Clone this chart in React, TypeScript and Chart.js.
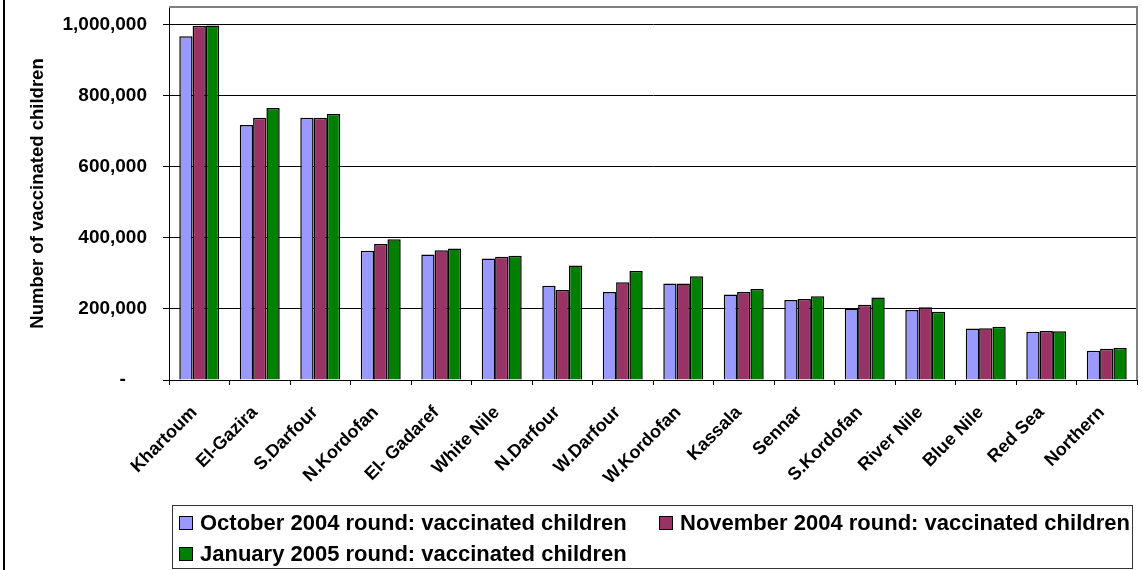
import React, { useEffect, useRef } from "react";
import { Chart, registerables } from "chart.js";

Chart.register(...registerables);

const categories = [
  "Khartoum", "El-Gazira", "S.Darfour", "N.Kordofan", "El- Gadaref", "White Nile",
  "N.Darfour", "W.Darfour", "W.Kordofan", "Kassala", "Sennar", "S.Kordofan",
  "River Nile", "Blue Nile", "Red Sea", "Northern",
];
const october2004 = [968000, 718000, 738000, 364000, 353000, 342000, 265000, 248000, 272000, 241000, 225000, 201000, 197000, 145000, 136000, 82000];
const november2004 = [997000, 738000, 738000, 383000, 365000, 347000, 253000, 275000, 272000, 248000, 228000, 212000, 205000, 146000, 138000, 88000];
const january2005 = [998000, 766000, 749000, 396000, 370000, 350000, 322000, 307000, 292000, 256000, 236000, 232000, 192000, 150000, 137000, 90000];
const seriesLabels = [
  "October 2004 round: vaccinated children",
  "November 2004 round: vaccinated children",
  "January 2005 round: vaccinated children",
];
const seriesColors = ["#9999FF", "#993366", "#008000"];
const yTickValues = [0, 200000, 400000, 600000, 800000, 1000000];
const yTitle = "Number of vaccinated children";

const FONT = "'Liberation Sans', Arial, sans-serif";

const decorPlugin = {
  id: "decor",
  afterDraw(chart: any) {
    const ctx = chart.ctx;
    const a = chart.chartArea;
    ctx.save();
    // outer frame left edge
    ctx.fillStyle = "#000";
    ctx.fillRect(3, 0, 2, chart.height);
    // plot area top/right border
    ctx.strokeStyle = "#808080";
    ctx.lineWidth = 2;
    ctx.beginPath();
    ctx.moveTo(a.left, a.top);
    ctx.lineTo(a.right, a.top);
    ctx.lineTo(a.right, a.bottom);
    ctx.stroke();
    // legend box
    ctx.strokeStyle = "#333";
    ctx.lineWidth = 1;
    ctx.strokeRect(172.5, 505.5, 960, 63);
    const pos = [
      { x: 179, y: 523 },
      { x: 659, y: 523 },
      { x: 179, y: 554 },
    ];
    ctx.font = `bold 22px ${FONT}`;
    ctx.textBaseline = "middle";
    ctx.textAlign = "left";
    chart.data.datasets.forEach((ds: any, i: number) => {
      const p = pos[i];
      ctx.fillStyle = ds.backgroundColor;
      ctx.fillRect(p.x, p.y - 7, 14, 14);
      ctx.strokeStyle = "#000";
      ctx.lineWidth = 1;
      ctx.strokeRect(p.x + 0.5, p.y - 6.5, 13, 13);
      ctx.fillStyle = "#000";
      ctx.fillText(ds.label, p.x + 21, p.y + 1);
    });
    ctx.restore();
  },
};

export default function App() {
  const ref = useRef<HTMLCanvasElement>(null);
  useEffect(() => {
    if (!ref.current) return;
    const data = [october2004, november2004, january2005];
    const chart = new Chart(ref.current, {
      type: "bar",
      data: {
        labels: categories,
        datasets: data.map((d, i) => ({
          label: seriesLabels[i],
          data: d,
          backgroundColor: seriesColors[i],
          borderColor: "#000",
          borderWidth: 1.5,
          categoryPercentage: 0.66,
          barPercentage: 1.0,
        })),
      },
      options: {
        responsive: false,
        animation: false,
        devicePixelRatio: 1,
        layout: { padding: { top: 7, right: 6, bottom: 0, left: 0 } },
        plugins: {
          legend: { display: false },
          tooltip: { enabled: false },
        },
        scales: {
          x: {
            offset: true,
            grid: { drawOnChartArea: false, drawTicks: true, tickLength: 5, color: "#000" },
            border: { color: "#000", width: 1 },
            ticks: {
              autoSkip: false,
              maxRotation: 45,
              minRotation: 45,
              color: "#000",
              padding: 17,
              labelOffset: -5,
              font: { family: FONT, size: 18, weight: "bold" },
            },
            afterFit: (s: any) => {
              s.height = 190;
              s.paddingLeft = 0;
              s.paddingRight = 0;
            },
          },
          y: {
            min: 0,
            max: 1050000,
            afterBuildTicks: (s: any) => {
              s.ticks = yTickValues.map((v) => ({ value: v }));
            },
            afterFit: (s: any) => {
              s.width = 169;
              s.paddingTop = 0;
              s.paddingBottom = 0;
            },
            grid: { color: "#000", lineWidth: 1, tickLength: 6, drawTicks: true },
            border: { color: "#000", width: 1 },
            ticks: {
              color: "#000",
              padding: 16,
              font: { family: FONT, size: 19, weight: "bold" },
              callback: (v: any) => (Number(v) === 0 ? "-    " : Number(v).toLocaleString("en-US")),
            },
            title: {
              display: true,
              text: yTitle,
              color: "#000",
              padding: { top: 27, bottom: 0 },
              font: { family: FONT, size: 18.5, weight: "bold" },
            },
          },
        },
      },
      plugins: [decorPlugin],
    });
    return () => chart.destroy();
  }, []);
  return (
    <div style={{ position: "fixed", left: 0, top: 0, width: 1143, height: 570, background: "#fff" }}>
      <canvas ref={ref} width={1143} height={570} style={{ display: "block" }} />
    </div>
  );
}
